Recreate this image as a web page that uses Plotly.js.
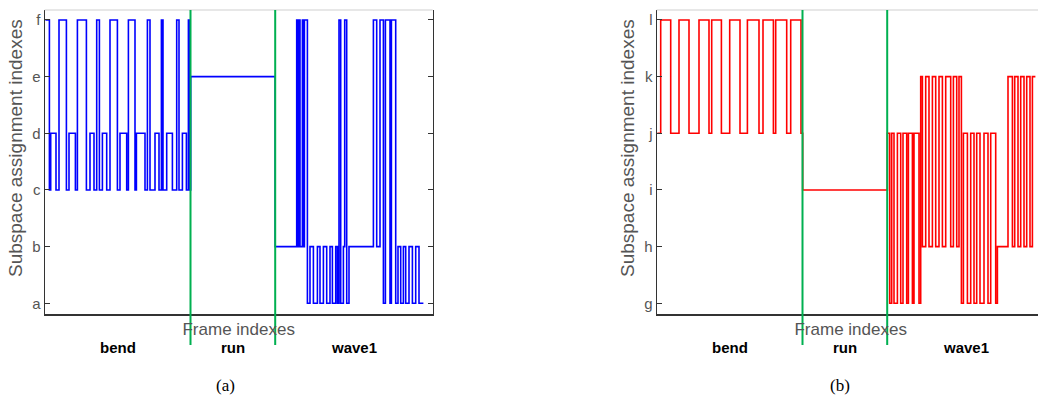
<!DOCTYPE html>
<html><head><meta charset="utf-8">
<script src="https://cdn.plot.ly/plotly-3.0.1.min.js"></script>
<style>html,body{margin:0;padding:0;overflow:hidden;background:#fff;width:1038px;height:402px}#chart{width:1050px;height:402px}</style>
</head><body><div id="chart"></div>
<script>
// ---- data ----
const leftLevels = ['a','b','c','d','e','f'];
const rightLevels = ['g','h','i','j','k','l'];
const actions = ['bend','run','wave1'];
const actionBounds = [0, 145.8, 230.5, 388];
const lastFrame = 378.7;

const leftFrames = [0.7,4.7,6,11.3,14.3,21.7,24.3,30.7,32.7,41.7,45.3,49.3,52,54.7,57.7,62,65.3,72.7,75.3,82,83.7,90.3,91.7,100.3,102.7,105.3,110.3,114.3,116.7,118.3,122,127.7,132,134.3,137.7,141.7,143.7,145,146,
  230.5,252,253.5,254,255.3,257.7,259,259.7,262.7,265.3,268.7,272.7,275.3,278.7,282,285.3,287.7,291,292.7,294.3,296,298.7,300,302,304.3,
  328.7,332,335.3,338.7,340.7,345.3,346.7,351,353.3,356,358.7,361,364.3,367.7,371,374.3];
const leftStates = ['f','c','d','c','f','c','d','c','f','c','d','c','f','c','d','c','f','c','d','c','f','c','d','c','f','c','d','c','f','c','d','c','f','c','d','c','f','c','e',
  'b','f','b','f','b','f','b','f','a','b','a','b','a','b','a','b','a','b','a','f','a','b','f','a','b',
  'f','b','f','a','f','a','f','a','b','a','b','a','b','a','b','a'];

const rightFrames = [0.7,4,14,22.3,32.3,42.3,52.3,55,64.7,73,83.3,90.7,102.3,106.3,116.7,119,130,134,144.3,146,
  230.7,233,235,237.3,240.7,244,246.3,250,251.7,255.7,257.3,262.3,264,265.7,269,272.3,275.7,279,282.3,285.7,289,294,296.7,300,302.3,
  304.7,306.7,310.7,314,317.3,320,323.3,327.3,331.3,334,339,340.7,351.3,355.7,358,361.3,364,367.3,370,373.3,375.7];
const rightStates = ['j','l','j','l','j','l','j','l','j','l','j','l','j','l','j','l','j','l','j','i',
  'j','g','j','g','j','g','j','g','j','g','j','g','k','h','k','h','k','h','k','h','k','h','k','h','k',
  'g','j','g','j','g','j','g','j','g','j','g','h','k','h','k','h','k','h','k','h','k'];

const yTitle = 'Subspace assignment indexes';
const xTitle = 'Frame indexes';

// ---- geometry ----
const W = 1050, H = 402;
const px = v => v / W, py = v => 1 - v / H;
const leftDom = [px(44.7), px(432.7)], rightDom = [px(656.7), px(1044.7)];
const yDom = [py(314.3), py(10)];
const yRange = [-0.194, 5.176];
const xRange = [0, 388];

function steps(fr, st) { return {x: fr.concat([lastFrame]), y: st.concat([st[st.length-1]])}; }
const L = steps(leftFrames, leftStates), R = steps(rightFrames, rightStates);

const traces = [
  {x: L.x, y: L.y, type: 'scatter', mode: 'lines', line: {shape: 'hv', color: '#0000ff', width: 1.6}, xaxis: 'x', yaxis: 'y', hoverinfo: 'skip'},
  {x: R.x, y: R.y, type: 'scatter', mode: 'lines', line: {shape: 'hv', color: '#ff0000', width: 1.6}, xaxis: 'x2', yaxis: 'y2', hoverinfo: 'skip'}
];

const sans = 'Liberation Sans, Arial, sans-serif';
const tickFont = {family: sans, size: 15, color: '#555'};
const titleFont = {family: sans, size: 17, color: '#555'};
function xax(dom, anchor) {
  return {domain: dom, range: xRange, anchor: anchor, showticklabels: false, ticks: '', showgrid: false, zeroline: false,
    showline: true, linecolor: '#333', linewidth: 1.2, mirror: false,
    title: {text: xTitle, font: titleFont, standoff: 8}};
}
function yax(dom, anchor, cats) {
  return {domain: dom, anchor: anchor, type: 'category', categoryarray: cats, range: yRange, showgrid: false, zeroline: false,
    showline: true, linecolor: '#333', linewidth: 1.2, mirror: 'ticks', ticks: 'inside', ticklen: 5, tickcolor: '#333',
    tickfont: tickFont};
}

const shapes = [], annotations = [];
[['x', leftDom, 15], ['x2', rightDom, 627]].forEach(([xr, dom, tx]) => {
  shapes.push({type: 'line', xref: 'paper', yref: 'paper', x0: dom[0], x1: dom[1], y0: yDom[1], y1: yDom[1], line: {color: '#d0d0d0', width: 1.2}});
  [actionBounds[1], actionBounds[2]].forEach(b => shapes.push({type: 'line', xref: xr, yref: 'paper', x0: b, x1: b, y0: py(345), y1: yDom[1], line: {color: '#00b050', width: 2}}));
  actions.forEach((a, i) => annotations.push({xref: xr, yref: 'paper', x: (actionBounds[i] + actionBounds[i+1]) / 2, y: py(347), text: '<b>' + a + '</b>', showarrow: false, xanchor: 'center', yanchor: 'middle', font: {family: sans, size: 15, color: '#000'}}));
  annotations.push({xref: 'paper', yref: 'paper', x: px(tx), y: py(148), text: yTitle, textangle: -90, showarrow: false, xanchor: 'center', yanchor: 'middle', font: {family: sans, size: 19, color: '#555'}});
});
annotations.push({xref: 'paper', yref: 'paper', x: px(225), y: py(385), text: '(a)', showarrow: false, xanchor: 'center', yanchor: 'middle', font: {family: 'Liberation Serif, Times New Roman, serif', size: 17, color: '#000'}});
annotations.push({xref: 'paper', yref: 'paper', x: px(840), y: py(385), text: '(b)', showarrow: false, xanchor: 'center', yanchor: 'middle', font: {family: 'Liberation Serif, Times New Roman, serif', size: 17, color: '#000'}});

const layout = {
  width: W, height: H, margin: {l: 0, r: 0, t: 0, b: 0}, showlegend: false,
  paper_bgcolor: '#fff', plot_bgcolor: '#fff',
  xaxis: xax(leftDom, 'y'), yaxis: yax(yDom, 'x', leftLevels),
  xaxis2: xax(rightDom, 'y2'), yaxis2: yax(yDom, 'x2', rightLevels),
  shapes: shapes, annotations: annotations
};
Plotly.newPlot('chart', traces, layout, {staticPlot: true, displayModeBar: false});
</script></body></html>
